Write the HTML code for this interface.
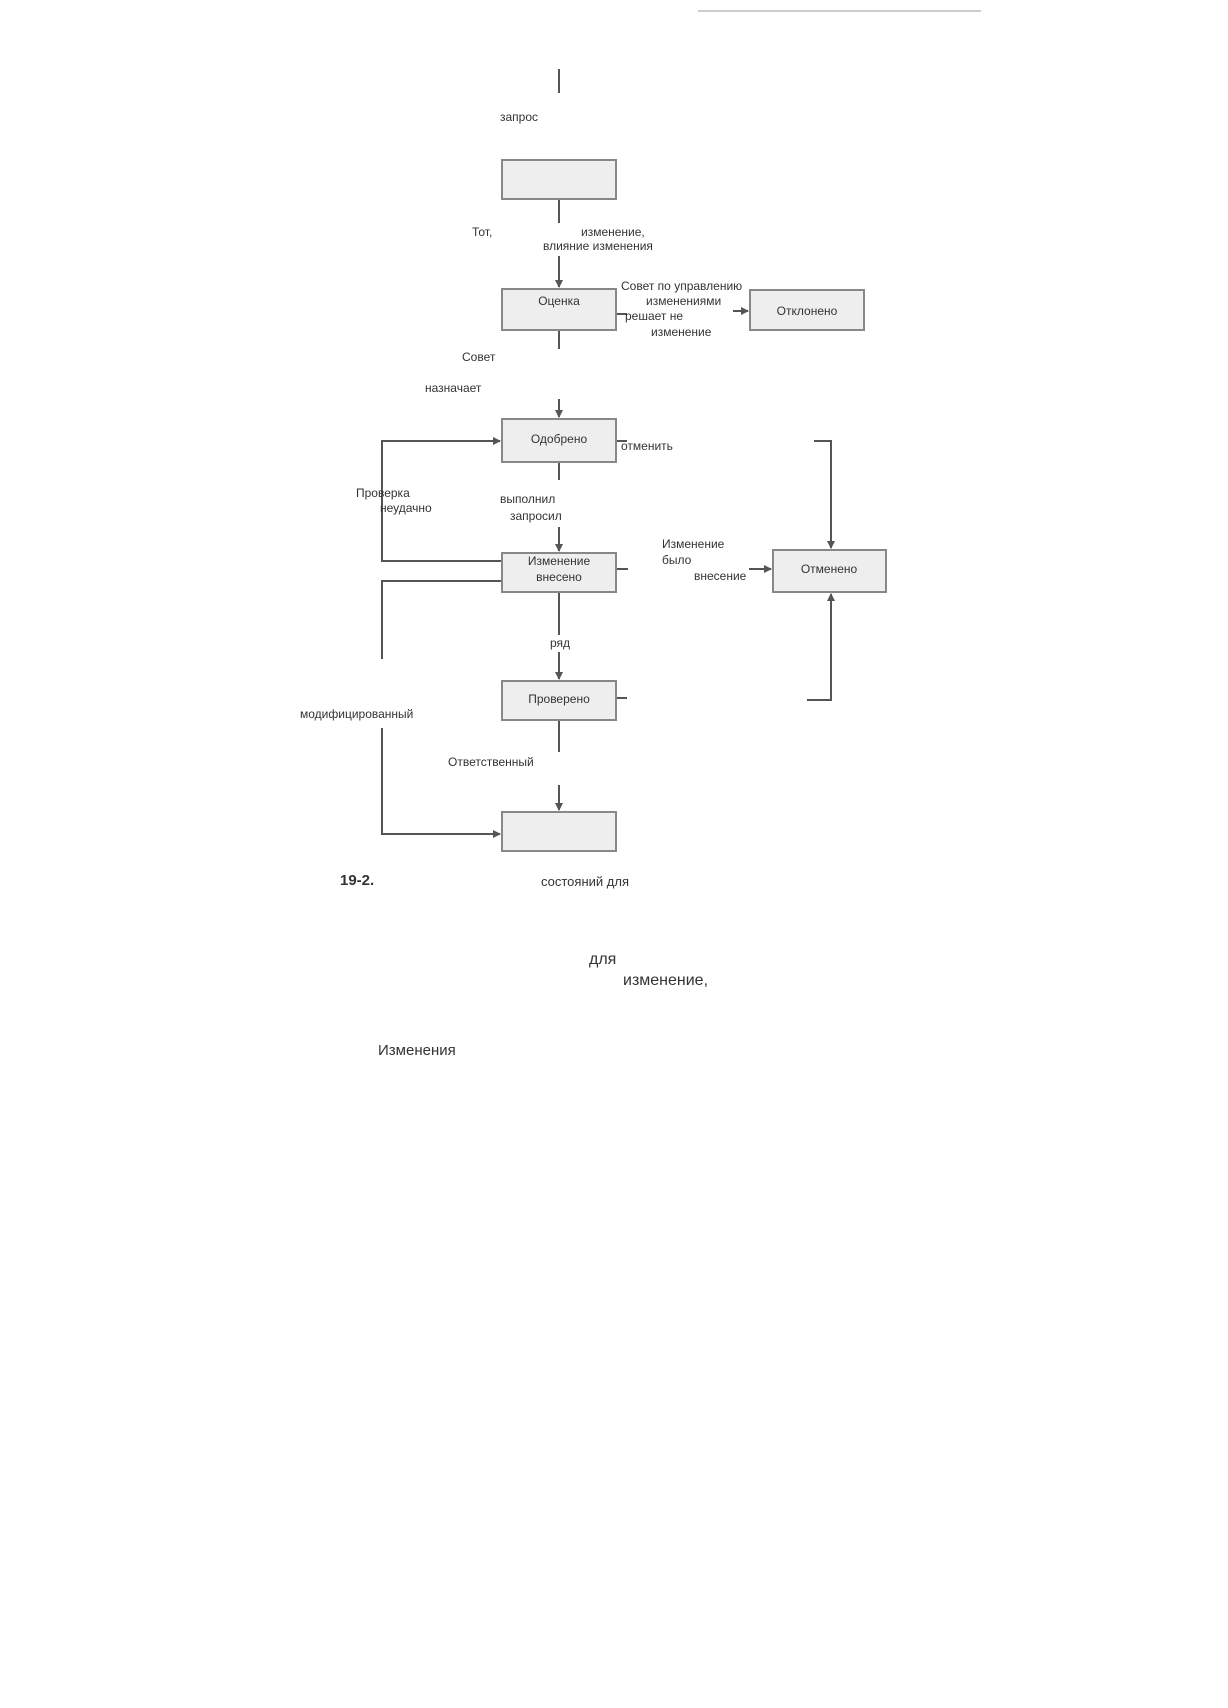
<!DOCTYPE html>
<html><head><meta charset="utf-8"><style>
html,body{margin:0;padding:0;background:#fff;}
svg{display:block;}
text{font-family:"Liberation Sans",sans-serif;fill:#333;font-size:12px;}
</style></head><body>
<svg width="1228" height="1708" viewBox="0 0 1228 1708" xmlns="http://www.w3.org/2000/svg">
<defs>
<marker id="a" markerWidth="8" markerHeight="8" refX="7" refY="4" orient="auto" markerUnits="userSpaceOnUse">
<path d="M0,0 L8,4 L0,8 z" fill="#555"/></marker>
</defs>
<line x1="698" y1="11" x2="981" y2="11" stroke="#ccc" stroke-width="2"/>
<g stroke="#555" stroke-width="2" fill="none">
<line x1="559" y1="69" x2="559" y2="93"/>
<line x1="559" y1="199" x2="559" y2="223"/>
<line x1="559" y1="256" x2="559" y2="287" marker-end="url(#a)"/>
<line x1="616" y1="314" x2="627" y2="314"/>
<line x1="733" y1="311" x2="748" y2="311" marker-end="url(#a)"/>
<line x1="559" y1="330" x2="559" y2="349"/>
<line x1="559" y1="399" x2="559" y2="417" marker-end="url(#a)"/>
<line x1="616" y1="441" x2="627" y2="441"/>
<polyline points="814,441 831,441 831,548" marker-end="url(#a)"/>
<polyline points="807,700 831,700 831,594" marker-end="url(#a)"/>
<line x1="616" y1="698" x2="627" y2="698"/>
<line x1="559" y1="462" x2="559" y2="480"/>
<line x1="559" y1="527" x2="559" y2="551" marker-end="url(#a)"/>
<line x1="616" y1="569" x2="628" y2="569"/>
<line x1="749" y1="569" x2="771" y2="569" marker-end="url(#a)"/>
<polyline points="502,561 382,561 382,441 500,441" marker-end="url(#a)"/>
<polyline points="502,581 382,581 382,659"/>
<polyline points="382,728 382,834 500,834" marker-end="url(#a)"/>
<line x1="559" y1="592" x2="559" y2="635"/>
<line x1="559" y1="652" x2="559" y2="679" marker-end="url(#a)"/>
<line x1="559" y1="720" x2="559" y2="752"/>
<line x1="559" y1="785" x2="559" y2="810" marker-end="url(#a)"/>
</g>
<g fill="#eee" stroke="#888" stroke-width="2">
<rect x="502" y="160" width="114" height="39"/>
<rect x="502" y="289" width="114" height="41"/>
<rect x="750" y="290" width="114" height="40"/>
<rect x="502" y="419" width="114" height="43"/>
<rect x="773" y="550" width="113" height="42"/>
<rect x="502" y="553" width="114" height="39"/>
<rect x="502" y="681" width="114" height="39"/>
<rect x="502" y="812" width="114" height="39"/>
</g>
<g>
<text x="500" y="121">запрос</text>
<text x="472" y="236">Тот,</text>
<text x="581" y="236">изменение,</text>
<text x="543" y="250">влияние изменения</text>
<text x="559" y="305" text-anchor="middle">Оценка</text>
<text x="621" y="290">Совет по управлению</text>
<text x="646" y="305">изменениями</text>
<text x="625" y="320">решает не</text>
<text x="651" y="336">изменение</text>
<text x="807" y="315" text-anchor="middle">Отклонено</text>
<text x="462" y="361">Совет</text>
<text x="425" y="392">назначает</text>
<text x="559" y="443" text-anchor="middle">Одобрено</text>
<text x="621" y="450">отменить</text>
<text x="356" y="497">Проверка</text>
<text x="380" y="512">неудачно</text>
<text x="500" y="503">выполнил</text>
<text x="510" y="520">запросил</text>
<text x="559" y="565" text-anchor="middle">Изменение</text>
<text x="559" y="581" text-anchor="middle">внесено</text>
<text x="662" y="548">Изменение</text>
<text x="662" y="564">было</text>
<text x="694" y="580">внесение</text>
<text x="829" y="573" text-anchor="middle">Отменено</text>
<text x="550" y="647">ряд</text>
<text x="559" y="703" text-anchor="middle">Проверено</text>
<text x="300" y="718">модифицированный</text>
<text x="448" y="766">Ответственный</text>
<text x="340" y="885" style="font-size:15px;font-weight:bold">19-2.</text>
<text x="541" y="886" style="font-size:13px">состояний для</text>
<text x="589" y="964" style="font-size:16px">для</text>
<text x="623" y="985" style="font-size:16px">изменение,</text>
<text x="378" y="1055" style="font-size:15px">Изменения</text>
</g>
</svg>
</body></html>
